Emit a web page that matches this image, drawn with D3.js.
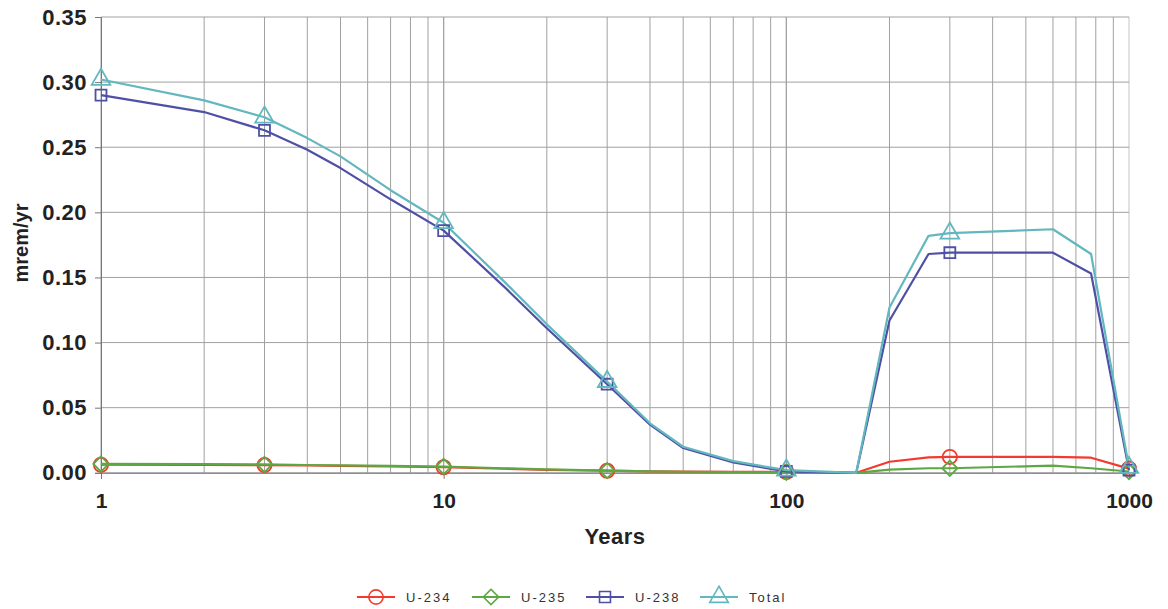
<!DOCTYPE html>
<html>
<head>
<meta charset="utf-8">
<script src="https://cdn.jsdelivr.net/npm/d3@7"></script>
<style>
  html, body { margin: 0; padding: 0; background: #fff; }
  svg { display: block; }
</style>
</head>
<body>
<div id="content"></div>
<script>
// data
const years = [1, 2, 3, 4, 5, 7, 10, 15, 20, 30, 40, 50, 70, 100, 160, 200, 260, 300, 600, 775, 1000];
const markerYears = [1, 3, 10, 30, 100, 300, 1000];

const u234 = [0.0062, 0.0061, 0.0059, 0.0056, 0.0053, 0.0049, 0.0043, 0.0031, 0.0023, 0.0016, 0.0011, 0.0009, 0.0007, 0.0006, 0, 0.0085, 0.0118, 0.0122, 0.0122, 0.0116, 0.0032];
const u235 = [0.0068, 0.0066, 0.0064, 0.0060, 0.0057, 0.0053, 0.0048, 0.0035, 0.0026, 0.0017, 0.0011, 0.0008, 0.0006, 0.0004, 0, 0.0025, 0.0035, 0.0035, 0.0055, 0.0035, 0.0010];
const u238 = [0.290, 0.277, 0.263, 0.248, 0.234, 0.210, 0.186, 0.143, 0.111, 0.068, 0.037, 0.019, 0.008, 0.001, 0, 0.117, 0.168, 0.169, 0.169, 0.153, 0.002];
const total = [0.302, 0.286, 0.273, 0.257, 0.243, 0.217, 0.192, 0.147, 0.114, 0.070, 0.038, 0.020, 0.009, 0.002, 0, 0.127, 0.182, 0.184, 0.187, 0.168, 0.004];

const yTicks = [0, 0.05, 0.10, 0.15, 0.20, 0.25, 0.30, 0.35];
const xTicks = [1, 10, 100, 1000];

const seriesNames = ["U-234", "U-235", "U-238", "Total"];
const seriesValues = [u234, u235, u238, total];
const seriesColors = ["#f23a2e", "#5ea844", "#4f4fa6", "#63b7be"];
const seriesSymbols = [d3.symbolCircle, d3.symbolDiamond2, d3.symbolSquare, d3.symbolTriangle];
const symbolSizes = [160, 150, 120, 150];

const W = 1168, H = 609;
const margin = {top: 17, right: 39, bottom: 137, left: 101};

const svg = d3.select('#content').append('svg')
  .attr('width', W)
  .attr('height', H);

const x = d3.scaleLog()
  .domain([1, 1000])
  .range([margin.left, W - margin.right]);

const y = d3.scaleLinear()
  .domain([0, 0.35])
  .range([H - margin.bottom + 0.8, margin.top]);

const font = '"Liberation Sans", Arial, sans-serif';

// vertical grid (log minor lines too)
const minor = [];
for (let d = 1; d < 1000; d *= 10) {
  for (let k = 1; k <= 10; k++) minor.push(d * k);
}
svg.append('g')
  .selectAll('line')
  .data(minor)
  .join('line')
  .attr('x1', d => x(d)).attr('x2', d => x(d))
  .attr('y1', y(0)).attr('y2', y(0.35))
  .attr('stroke', d => d === 1000 ? '#c4c4c4' : '#a0a0a0')
  .attr('stroke-width', 1);

// horizontal grid
svg.append('g')
  .selectAll('line')
  .data(yTicks)
  .join('line')
  .attr('x1', x(1)).attr('x2', x(1000))
  .attr('y1', d => y(d)).attr('y2', d => y(d))
  .attr('stroke', '#a0a0a0')
  .attr('stroke-width', 1);

// y axis
const yAxis = svg.append('g')
  .attr('transform', `translate(${x(1)},0)`)
  .call(d3.axisLeft(y).tickValues(yTicks).tickFormat(d3.format('.2f')).tickSize(6).tickPadding(8));
yAxis.select('.domain').attr('stroke', '#777');
yAxis.selectAll('.tick line').attr('stroke', '#777');
yAxis.selectAll('text')
  .attr('font-family', font)
  .attr('font-size', 22)
  .attr('font-weight', 'bold')
  .attr('letter-spacing', 0.5)
  .attr('fill', '#222');

// x axis
const xAxis = svg.append('g')
  .attr('transform', `translate(0,${y(0)})`)
  .call(d3.axisBottom(x).tickValues(xTicks).tickFormat(d3.format('d')).tickSize(6).tickPadding(14));
xAxis.select('.domain').attr('stroke', '#777');
xAxis.selectAll('.tick line').attr('stroke', '#777');
xAxis.selectAll('text')
  .attr('font-family', font)
  .attr('font-size', 21)
  .attr('font-weight', 'bold')
  .attr('fill', '#222');

// axis titles
svg.append('text')
  .attr('x', 615).attr('y', 544)
  .attr('text-anchor', 'middle')
  .attr('font-family', font)
  .attr('font-size', 22)
  .attr('font-weight', 'bold')
  .attr('letter-spacing', 0.5)
  .attr('fill', '#222')
  .text('Years');

svg.append('text')
  .attr('transform', 'translate(28,243) rotate(-90)')
  .attr('text-anchor', 'middle')
  .attr('font-family', font)
  .attr('font-size', 20)
  .attr('font-weight', 'bold')
  .attr('fill', '#222')
  .text('mrem/yr');

// series lines
const line = d3.line()
  .x((d, i) => x(years[i]))
  .y(d => y(d));

const plot = svg.append('g');
seriesValues.forEach((vals, s) => {
  plot.append('path')
    .datum(vals)
    .attr('d', line)
    .attr('fill', 'none')
    .attr('stroke', seriesColors[s])
    .attr('stroke-width', 2.2)
    .attr('stroke-linejoin', 'round');
});

// markers
seriesValues.forEach((vals, s) => {
  const pts = years.map((yr, i) => ({yr, v: vals[i]})).filter(p => markerYears.includes(p.yr));
  plot.append('g')
    .selectAll('path')
    .data(pts)
    .join('path')
    .attr('transform', d => `translate(${x(d.yr)},${y(d.v)})`)
    .attr('d', d3.symbol().type(seriesSymbols[s]).size(symbolSizes[s]))
    .attr('fill', 'none')
    .attr('stroke', seriesColors[s])
    .attr('stroke-width', 1.8);
});

// legend
const legendX = [357, 472, 586, 700];
const legend = svg.append('g');
seriesNames.forEach((name, s) => {
  const g = legend.append('g').attr('transform', `translate(${legendX[s]},597)`);
  g.append('line')
    .attr('x1', 0).attr('x2', 38)
    .attr('y1', 0).attr('y2', 0)
    .attr('stroke', seriesColors[s])
    .attr('stroke-width', 2);
  g.append('path')
    .attr('transform', 'translate(19,0)')
    .attr('d', d3.symbol().type(seriesSymbols[s]).size(symbolSizes[s]))
    .attr('fill', 'none')
    .attr('stroke', seriesColors[s])
    .attr('stroke-width', 1.6);
  g.append('text')
    .attr('x', 49).attr('y', 5)
    .attr('font-family', font)
    .attr('font-size', 13)
    .attr('letter-spacing', 2)
    .attr('fill', '#333')
    .text(name);
});
</script>
</body>
</html>
